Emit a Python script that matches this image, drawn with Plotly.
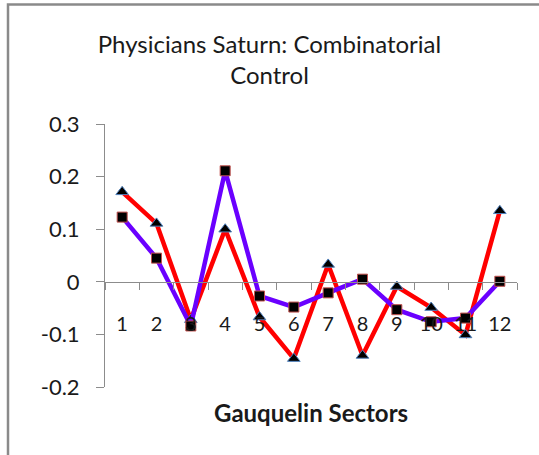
import plotly.graph_objects as go

# Gauquelin sectors and the two series
sectors = ['1', '2', '3', '4', '5', '6', '7', '8', '9', '10', '11', '12']
triangle_series = [0.171, 0.111, -0.072, 0.100, -0.067, -0.146,
                   0.033, -0.140, -0.009, -0.049, -0.101, 0.135]
square_series = [0.123, 0.045, -0.084, 0.211, -0.027, -0.048,
                 -0.021, 0.005, -0.053, -0.076, -0.069, 0.001]

y_tick_vals = [0.3, 0.2, 0.1, 0, -0.1, -0.2]
y_tick_text = ['0.3', '0.2', '0.1', '0', '-0.1', '-0.2']

W, H = 539, 455
# plot area in pixels
left, right, top, bottom = 105, 517, 124, 387

FONT = 'Lato'
AXIS_GREY = '#8c8c8c'


def px_x(x):
    return (x - left) / (right - left)


def px_y(y):
    return (bottom - y) / (bottom - top)


fig = go.Figure()
fig.add_trace(go.Scatter(
    x=sectors, y=triangle_series, mode='lines+markers',
    line=dict(color='#ff0000', width=4.5),
    marker=dict(symbol='triangle-up', size=11, color='black',
                line=dict(color='#4f81bd', width=1)),
    showlegend=False))
fig.add_trace(go.Scatter(
    x=sectors, y=square_series, mode='lines+markers',
    line=dict(color='#6a00ff', width=4.5),
    marker=dict(symbol='square', size=10, color='black',
                line=dict(color='#c0504d', width=1)),
    showlegend=False))

zero_pos = (0 - (-0.2)) / (0.3 - (-0.2))

fig.update_layout(
    width=W, height=H,
    margin=dict(l=left, r=W - right, t=top, b=H - bottom),
    paper_bgcolor='white', plot_bgcolor='white',
    font=dict(family=FONT, color='#1a1a1a'),
    title=dict(text='Physicians Saturn: Combinatorial<br>Control',
               x=0.5, xref='container', xanchor='center',
               y=1 - 53 / H, yref='container', yanchor='middle',
               font=dict(size=24, family=FONT, color='#1a1a1a')),
    xaxis=dict(type='category', anchor='free', position=zero_pos,
               showgrid=False, zeroline=False,
               showline=True, linecolor=AXIS_GREY, linewidth=1,
               ticks='outside', ticklen=7, tickcolor=AXIS_GREY,
               tickson='boundaries', ticklabelstandoff=24,
               tickfont=dict(size=20, family=FONT, color='#1a1a1a'),
               range=[-0.5, 11.5]),
    yaxis=dict(range=[-0.2, 0.3], showgrid=False, zeroline=False,
               showline=True, linecolor=AXIS_GREY, linewidth=1,
               ticks='outside', ticklen=8, tickcolor=AXIS_GREY,
               tickmode='array', tickvals=y_tick_vals, ticktext=y_tick_text,
               ticklabelstandoff=12,
               tickfont=dict(size=22, family=FONT, color='#1a1a1a')),
    annotations=[dict(text='<b>Gauquelin Sectors</b>', xref='paper', yref='paper',
                      x=0.5, y=px_y(412), xanchor='center', yanchor='middle',
                      showarrow=False,
                      font=dict(size=24, family=FONT, color='#1a1a1a'))],
    shapes=[dict(type='rect', xref='paper', yref='paper',
                 x0=px_x(8), x1=px_x(W + 10), y0=px_y(H + 10), y1=px_y(4.5),
                 line=dict(color='#8a8a8a', width=2.5), layer='below')],
)

# page body has an 8px default margin; drop it so the figure sits at 0,0
fig.write_html("out.html", config={'displayModeBar': False},
               post_script="document.body.style.margin='0';")
